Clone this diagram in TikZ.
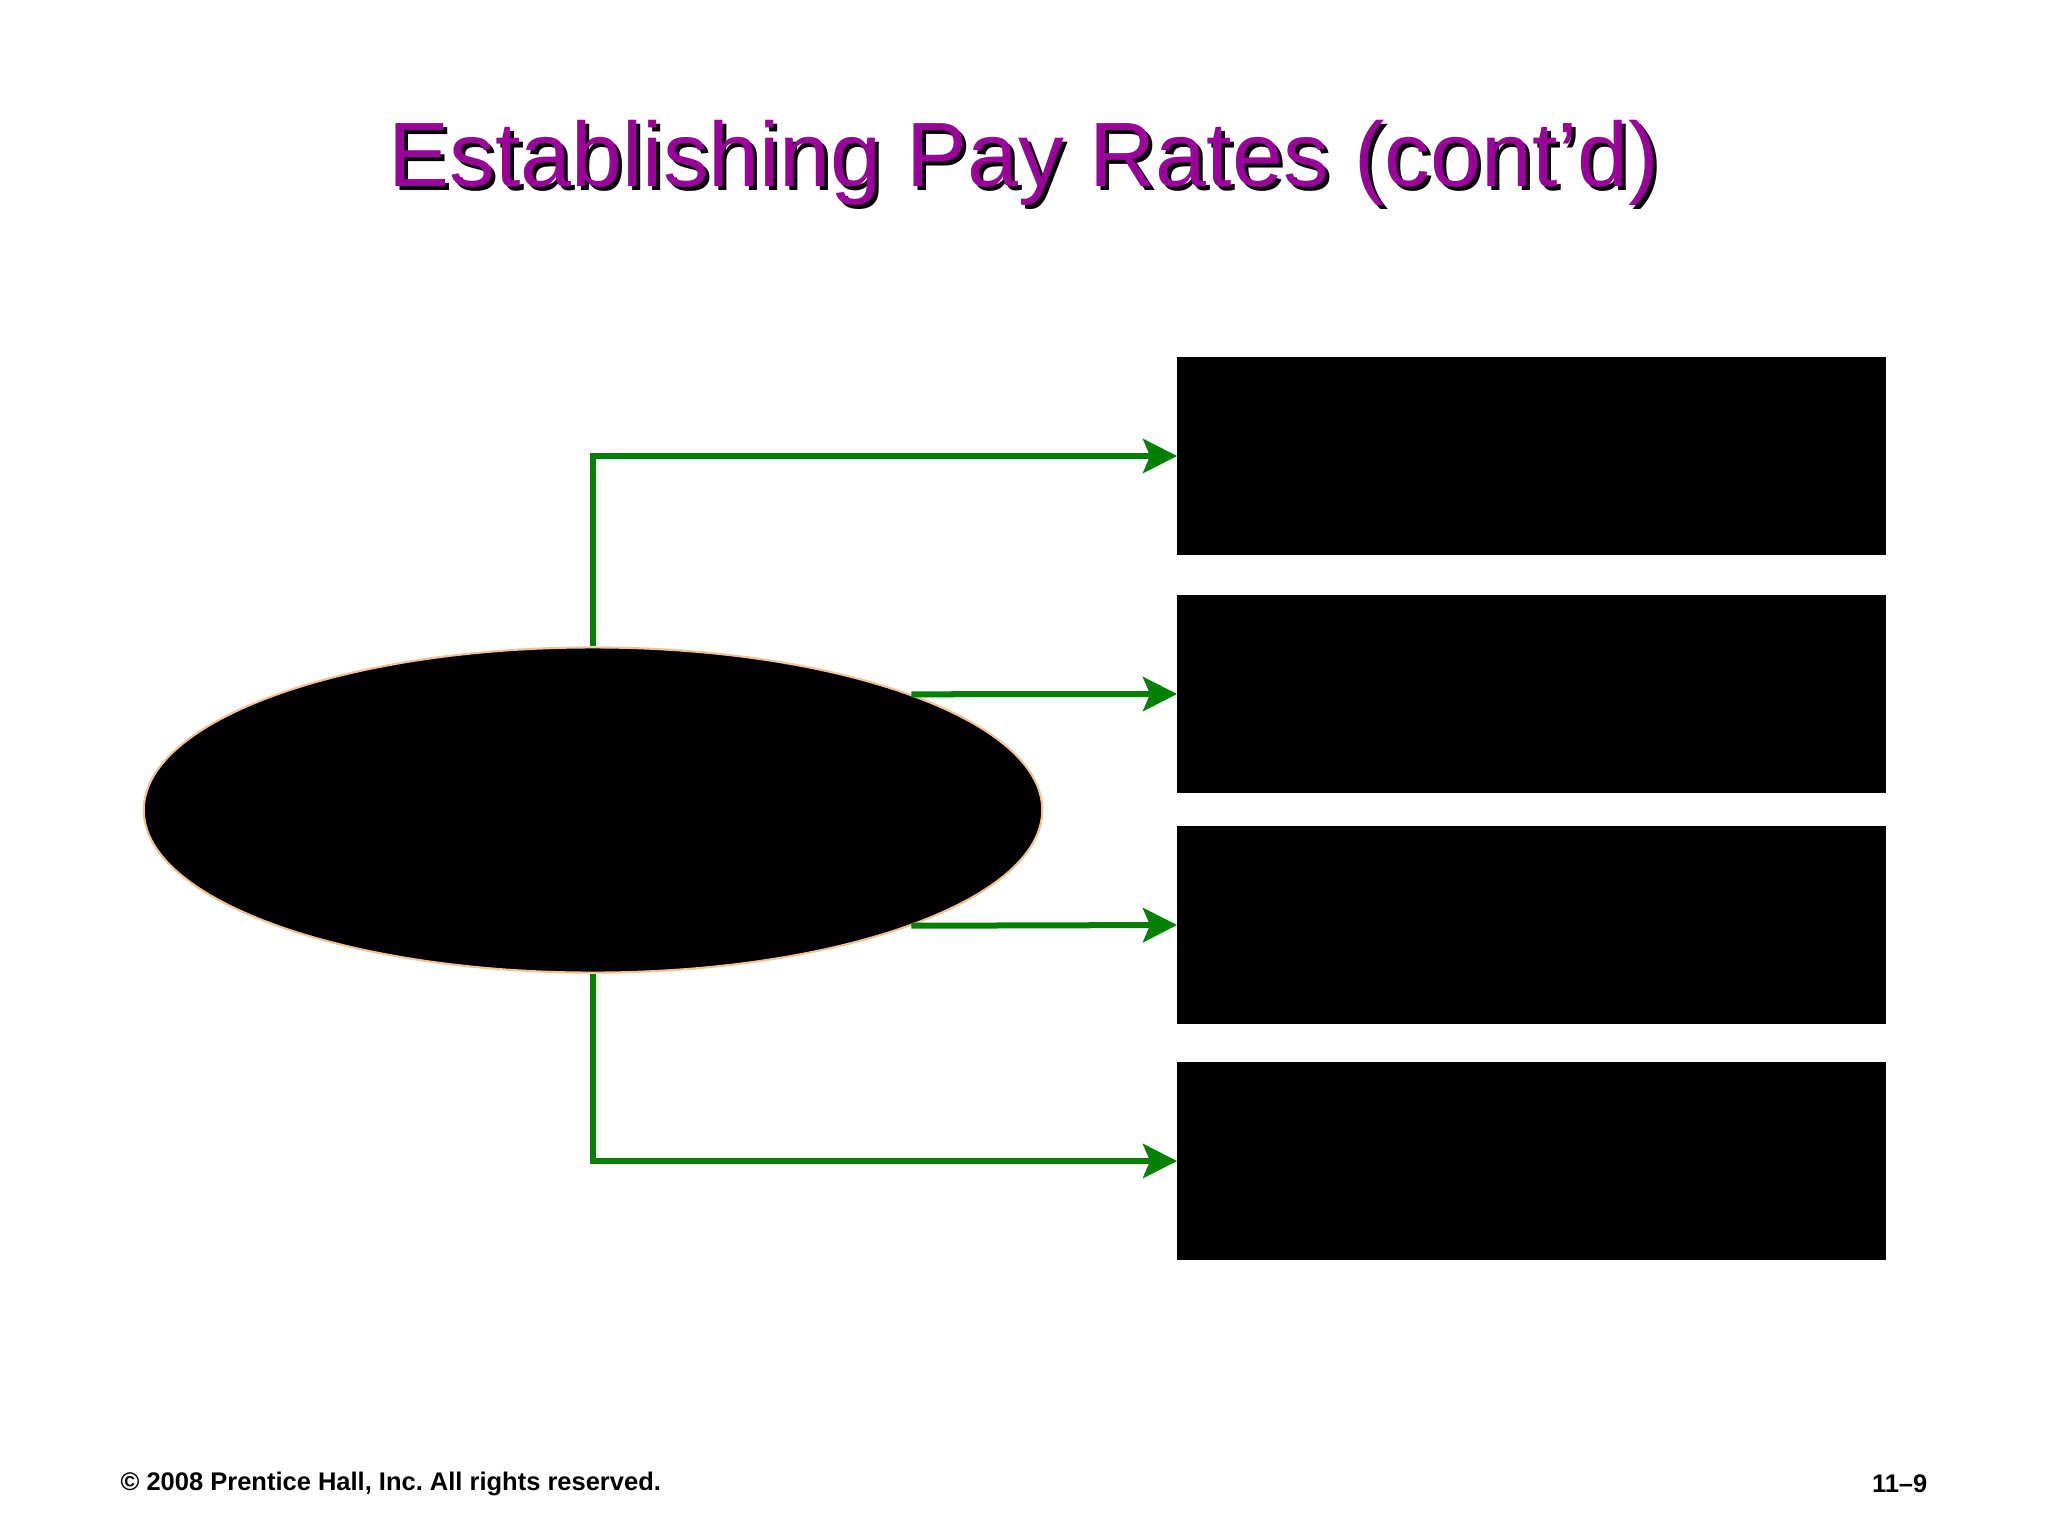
\documentclass[tikz,border=0pt]{standalone}
\usepackage{fontspec}
\setmainfont{Liberation Sans}
\usetikzlibrary{arrows.meta,shapes.geometric,positioning}
\definecolor{titlepurple}{RGB}{153,0,153}
\definecolor{flowgreen}{RGB}{0,128,0}
\definecolor{rimtan}{RGB}{240,195,150}
\def\panelrows{456, 694, 925, 1161}
\frenchspacing

\tikzset{
  panel/.style={draw=black, fill=black, minimum width=7.07cm, minimum height=1.96cm, inner sep=0pt},
  oval/.style={ellipse, draw=rimtan, fill=black, line width=0.6pt, minimum width=8.98cm, minimum height=3.25cm, inner sep=0pt},
  flow/.style={draw=flowgreen, line width=0.06cm, -{Stealth[length=0.34cm,width=0.34cm,inset=0.07cm]}},
  headline/.style={font=\fontsize{26}{31}\selectfont, inner sep=0pt},
  foot/.style={font=\bfseries\fontsize{7.25}{8.5}\selectfont, inner sep=0pt}
}

\begin{document}
\begin{tikzpicture}[x=0.01cm,y=-0.01cm]
  \useasboundingbox[fill=white] (0,0) rectangle (2048,1536);
  % title with its shadow
  \node[headline, text=black] (shadow) at (1028,167) {Establishing Pay Rates (cont’d)};
  \node[headline, text=titlepurple] (title) at (1024,163) {Establishing Pay Rates (cont’d)};
  % right column
  \foreach \y [count=\c] in \panelrows {
    \node[panel] (b\c) at (1531.5,\y) {};
  }
  \node[oval] (hub) at (593,810) {};
  % connectors
  \draw[flow] (hub.north) |- (b1.west);
  \draw[flow] (hub.north east) -- (b2.west);
  \draw[flow] (hub.south east) -- (b3.west);
  \draw[flow] (hub.south) |- (b4.west);
  % footer
  \node[foot, anchor=west] (copy) at (120,1484) {© 2008 Prentice Hall, Inc. All rights reserved.};
  \node[foot, anchor=east] (slide) at (1928,1484) {11–9};
\end{tikzpicture}
\end{document}
